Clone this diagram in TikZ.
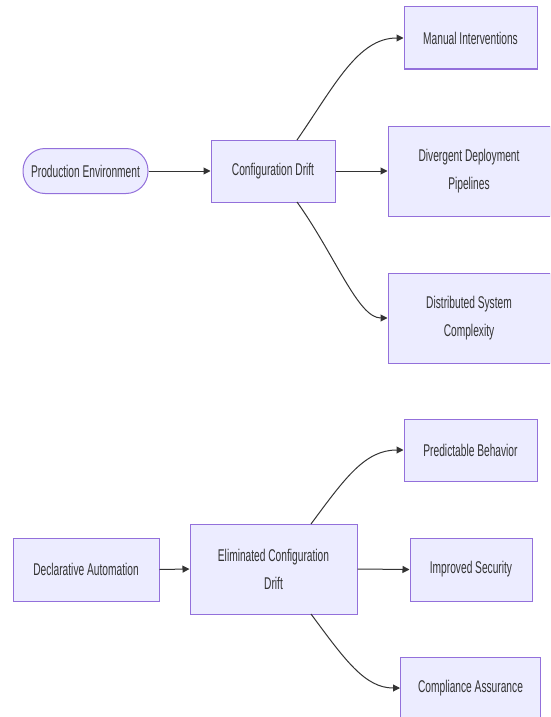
\documentclass[tikz,border=0pt]{standalone}
\usepackage{fontspec}
\setmainfont[FakeStretch=0.6]{Liberation Sans}
\usetikzlibrary{arrows.meta}
\definecolor{boxfill}{HTML}{ECECFF}
\definecolor{boxline}{HTML}{9370DB}
\definecolor{ink}{HTML}{333333}
\tikzset{
  box/.style={draw=boxline, fill=boxfill, line width=1pt, inner sep=0pt,
    align=center, text=ink, font=\fontsize{17}{28}\selectfont},
  conn/.style={draw=ink, line width=1pt, -{Triangle[length=7pt,width=7pt]}},
}
\begin{document}
\begin{tikzpicture}[x=1pt,y=-1pt]
\useasboundingbox (0,0) rectangle (550,717);
\clip (0,0) rectangle (550,717);
% top group
\node[box, rounded corners=22pt, minimum width=125pt, minimum height=45pt] (prod) at (85.5,171) {Production Environment};
\node[box, minimum width=124pt, minimum height=62pt] (drift) at (273,171) {Configuration Drift};
\node[box, minimum width=133pt, minimum height=62pt] (manual) at (470.5,38) {Manual Interventions};
\node[box, minimum width=162pt, minimum height=90pt] (pipe) at (469,171) {Divergent Deployment\\Pipelines};
\node[box, minimum width=162pt, minimum height=90pt] (dist) at (469,318) {Distributed System\\Complexity};
\coordinate (dtop) at (297,140);
\coordinate (dbot) at (297,202);
\draw[conn] (prod.east) -- (drift.west);
\draw[conn] (dtop) .. controls (335,85) and (358,38) .. (manual.west);
\draw[conn] (drift.east) -- (pipe.west);
\draw[conn] (dbot) .. controls (335,255) and (358,318) .. (dist.west);
% bottom group
\node[box, minimum width=146pt, minimum height=63pt] (decl) at (86,569.5) {Declarative Automation};
\node[box, minimum width=167pt, minimum height=90pt] (elim) at (273.5,569) {Eliminated Configuration\\Drift};
\node[box, minimum width=133pt, minimum height=62pt] (pred) at (470.5,450) {Predictable Behavior};
\node[box, minimum width=122pt, minimum height=63pt] (sec) at (471,569.5) {Improved Security};
\node[box, minimum width=140pt, minimum height=62pt] (comp) at (470.5,688) {Compliance Assurance};
\coordinate (etop) at (311,524);
\coordinate (ebot) at (311,614);
\draw[conn] (decl.east) -- (elim.west);
\draw[conn] (etop) .. controls (345,478) and (365,450) .. (pred.west);
\draw[conn] (elim.east) -- (sec.west);
\draw[conn] (ebot) .. controls (345,660) and (365,688) .. (comp.west);
\end{tikzpicture}
\end{document}
